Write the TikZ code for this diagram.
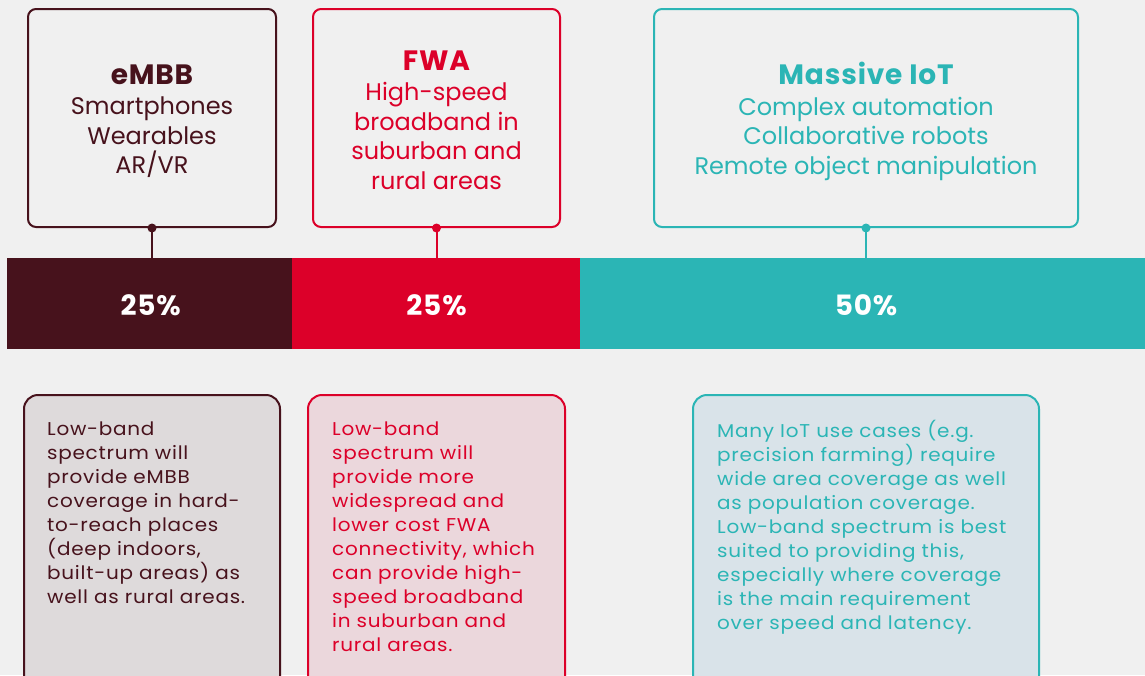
\documentclass[tikz,border=0pt]{standalone}
\usepackage{fontspec}
\setmainfont{Poppins}
\newfontfamily\lowfont[FakeStretch=1.08,LetterSpace=4]{Poppins}
\definecolor{bgc}{HTML}{F0F0F0}
\definecolor{maroon}{HTML}{47121C}
\definecolor{redc}{HTML}{DC0029}
\definecolor{teal}{HTML}{2BB5B5}
\definecolor{fillA}{HTML}{DEDADB}
\definecolor{fillB}{HTML}{EBD7DC}
\definecolor{fillC}{HTML}{D9E3E9}
\tikzset{
  topbox/.style={draw=#1, line width=2pt, rounded corners=8pt, inner sep=0pt},
  toptext/.style={text=#1, align=center, inner sep=0pt,
     font=\fontsize{24}{29.5}\selectfont},
  lowbox/.style={draw=#1, line width=2pt, rounded corners=14pt, inner sep=0pt},
  lowtext/.style={text=#1, align=left, inner sep=0pt, anchor=north west,
     font=\lowfont\fontsize{18.5}{24}\selectfont},
  barseg/.style={fill=#1, draw=none, inner sep=0pt, text=white},
  pct/.style={text=white, inner sep=0pt,
     font=\bfseries\addfontfeatures{LetterSpace=3}\fontsize{28}{30}\selectfont},
  dotc/.style={circle, fill=#1, inner sep=0pt, minimum size=9pt},
  conn/.style={draw=#1, line width=2pt},
}
\newcommand{\hd}[1]{{\bfseries\addfontfeatures{LetterSpace=3}\fontsize{28}{31}\selectfont #1}\\[1pt]}
\begin{document}
\begin{tikzpicture}[x=1pt,y=-1pt]
\useasboundingbox (0,0) rectangle (1145,675);
\fill[bgc] (0,0) rectangle (1145,675);
\clip (0,0) rectangle (1145,675);
% bar
\node[barseg=maroon, minimum width=285pt, minimum height=91pt, anchor=north west] (bar1) at (7,258) {};
\node[barseg=redc, minimum width=288pt, minimum height=91pt, anchor=north west] (bar2) at (292,258) {};
\node[barseg=teal, minimum width=566pt, minimum height=91pt, anchor=north west] (bar3) at (580,258) {};
% top boxes
\node[topbox=maroon, minimum width=248pt, minimum height=218pt, anchor=north west] (top1) at (27,8) {};
\node[topbox=redc, minimum width=247pt, minimum height=218pt, anchor=north west] (top2) at (312,8) {};
\node[topbox=teal, minimum width=424pt, minimum height=218pt, anchor=north west] (top3) at (653,8) {};
\node[toptext=maroon] (tt1) at ([yshift=-3pt]top1.center) {\hd{eMBB}Smartphones\\Wearables\\AR/VR};
\node[toptext=redc] (tt2) at ([yshift=-2pt]top2.center) {\hd{FWA}High-speed\\broadband in\\suburban and\\rural areas};
\node[toptext=teal] (tt3) at ([yshift=-3.5pt]top3.center) {\hd{Massive IoT}Complex automation\\Collaborative robots\\Remote object manipulation};
% percentages
\node[pct] (p1) at ([xshift=1pt,yshift=-2pt]bar1.center) {25\%};
\node[pct] (p2) at ([yshift=-2pt]top2.south |- bar2.center) {25\%};
\node[pct] (p3) at ([yshift=-2pt]top3.south |- bar3.center) {50\%};
% connectors
\draw[conn=maroon] (top1.south) -- (top1.south |- bar1.north);
\draw[conn=redc] (top2.south) -- (top2.south |- bar2.north);
\draw[conn=teal] (top3.south) -- (top3.south |- bar3.north);
\node[dotc=maroon] (d1) at (top1.south) {};
\node[dotc=redc] (d2) at (top2.south) {};
\node[dotc=teal] (d3) at (top3.south) {};
% lower boxes
\node[lowbox=maroon, fill=fillA, minimum width=256pt, minimum height=320pt, anchor=north west] (low1) at (23,394) {};
\node[lowbox=redc, fill=fillB, minimum width=257pt, minimum height=320pt, anchor=north west] (low2) at (307,394) {};
\node[lowbox=teal, fill=fillC, minimum width=346pt, minimum height=320pt, anchor=north west] (low3) at (692,394) {};
\node[lowtext=maroon] (lt1) at (47,422) {Low-band\\spectrum will\\provide eMBB\\coverage in hard-\\to-reach places\\(deep indoors,\\built-up areas) as\\well as rural areas.};
\node[lowtext=redc] (lt2) at (332,422) {Low-band\\spectrum will\\provide more\\widespread and\\lower cost FWA\\connectivity, which\\can provide high-\\speed broadband\\in suburban and\\rural areas.};
\node[lowtext=teal] (lt3) at (717,420.5) {Many IoT use cases (e.g.\\precision farming) require\\wide area coverage as well\\as population coverage.\\Low-band spectrum is best\\suited to providing this,\\especially where coverage\\is the main requirement\\over speed and latency.};
\end{tikzpicture}
\end{document}
